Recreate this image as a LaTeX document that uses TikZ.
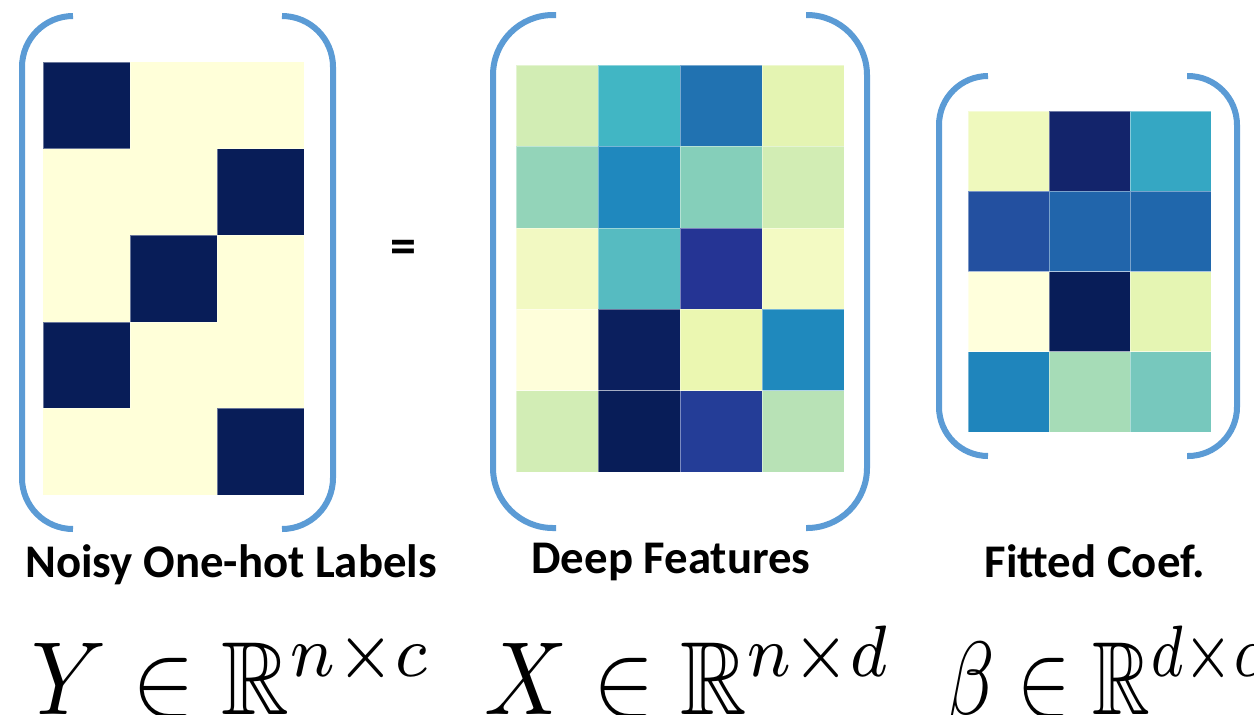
\documentclass[tikz,border=0pt]{standalone}
\usepackage{fontspec}
\usepackage{amssymb}
\setmainfont{Carlito}
\usetikzlibrary{calc}

\definecolor{brack}{HTML}{5B9BD5}
\definecolor{hotdark}{HTML}{081D58}
\definecolor{hotlight}{HTML}{FFFFD9}

\begin{document}
\begin{tikzpicture}[x=0.5pt, y=-0.5pt,
  brkt/.style={brack, line width=3pt},
  cellbox/.style={draw=white, draw opacity=0.4, line width=0.3pt},
  lbl/.style={anchor=base, inner sep=0pt, font=\fontsize{23.4}{28}\selectfont\bfseries},
  formula/.style={anchor=base west, inner sep=0pt}]
\useasboundingbox (0,0) rectangle (1254,714);
\clip (0,0) rectangle (1254,714);

% one-hot labels Y
\fill[hotlight] (43,62) rectangle (304,495);
\foreach \r/\c in {0/0, 1/2, 2/1, 3/0, 4/2} \fill[hotdark, cellbox] ({43+87*\c},{62+86.6*\r}) rectangle ++(87,86.6);
\draw[brkt, rounded corners=25.5pt] (73,16) -- (22,16) -- (22,529) -- (73,529);
\draw[brkt, rounded corners=25.5pt] (282,16) -- (333,16) -- (333,529) -- (282,529);

\node (eq) at (403,252) {\fontsize{26}{30}\selectfont\bfseries =};

% deep features X
\foreach \row [count=\r from 0] in {{D2EDB4,41B6C4,2172B1,E4F4B2},{93D4B9,1F88BE,85CFBA,D2EDB4},{F2F9C2,56BBC1,253494,F3FAC3},{FEFEDA,0B1F5E,EBF7B1,1F89BD},{D2EDB5,081D58,243D97,B8E2B6}}
  \foreach \col [count=\c from 0] in \row {
    \definecolor{cell}{HTML}{\col}
    \fill[cell, cellbox] ({516+82*\c},{65+81.4*\r}) rectangle ++(82,81.4);
  }
\draw[brkt, rounded corners=30pt] (556,15) -- (493,15) -- (493,528) -- (556,528);
\draw[brkt, rounded corners=30pt] (806,15) -- (867,15) -- (867,528) -- (806,528);

% fitted coefficients beta
\foreach \row [count=\r from 0] in {{EFF9BD,13246B,35A7C3},{2350A0,2165AB,2067AC},{FFFFDC,081D58,E5F5B3},{1F85BC,A6DCB7,77C8BD}}
  \foreach \col [count=\c from 0] in \row {
    \definecolor{cell}{HTML}{\col}
    \fill[cell, cellbox] ({968+81*\c},{111+80.25*\r}) rectangle ++(81,80.25);
  }
\draw[brkt, rounded corners=24.5pt] (988,76) -- (939,76) -- (939,456) -- (988,456);
\draw[brkt, rounded corners=24.5pt] (1187,76) -- (1237,76) -- (1237,456) -- (1187,456);

% captions
\node[lbl] (lblY) at (231,577) {Noisy One-hot Labels};
\node[lbl] (lblX) at (671,573) {Deep Features};
\node[lbl] (lblB) at (1095,577) {Fitted Coef.};

% formulas, cut off like the source
\node[formula] (fY) at (31,714) {\scalebox{4.7}[5.2]{$Y \in \mathbb{R}^{n\times c}$}};
\begin{scope}
\clip (480,600) rectangle (888,714);
\node[formula] (fX) at (484,714) {\scalebox{4.6}[5.2]{$X \in \mathbb{R}^{n\times d}$}};
\end{scope}
\node[formula] (fB) at (945,714) {\scalebox{4}[5.2]{$\beta \in \mathbb{R}^{d\times c}$}};
\end{tikzpicture}
\end{document}
